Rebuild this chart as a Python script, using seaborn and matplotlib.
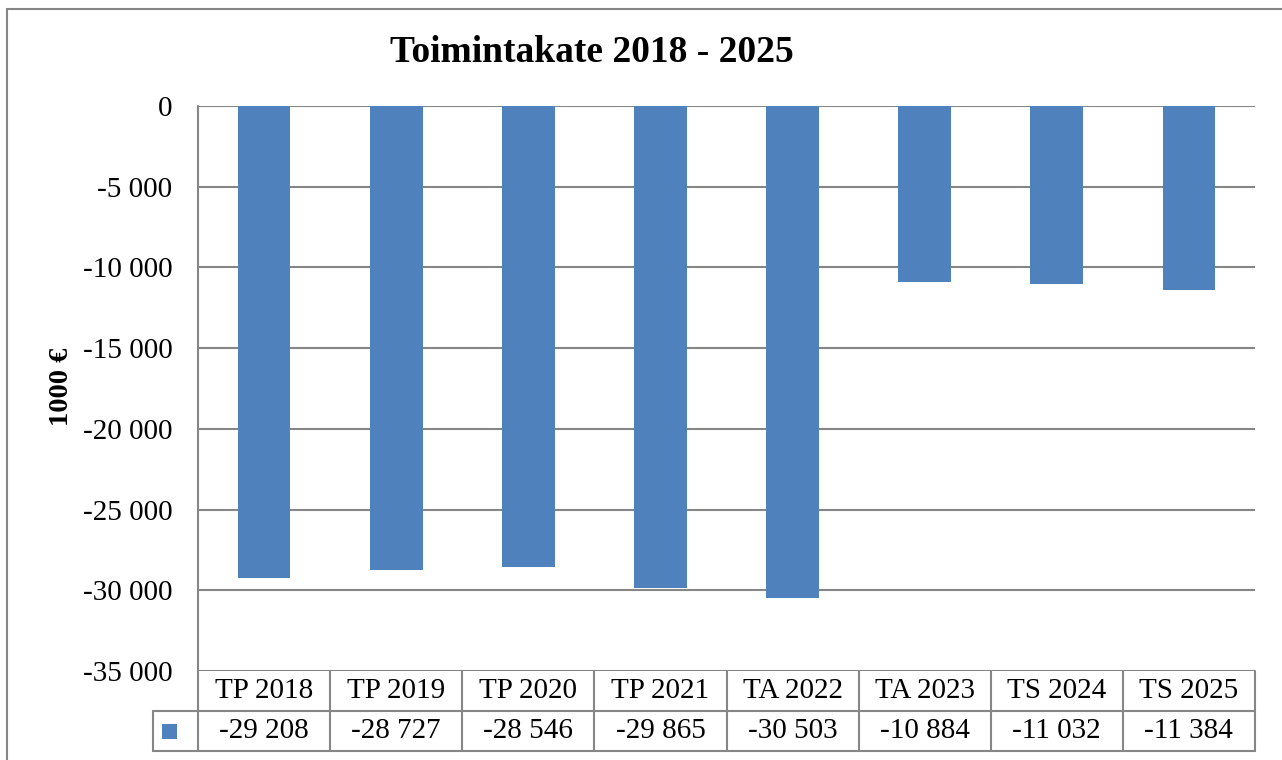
import matplotlib
matplotlib.use("Agg")
import matplotlib.pyplot as plt
from matplotlib.patches import Rectangle
from matplotlib.lines import Line2D
from matplotlib.ticker import FuncFormatter
import seaborn as sns
import pandas as pd

categories = ["TP 2018", "TP 2019", "TP 2020", "TP 2021", "TA 2022", "TA 2023", "TS 2024", "TS 2025"]
values = [-29208, -28727, -28546, -29865, -30503, -10884, -11032, -11384]
title = "Toimintakate 2018 - 2025"
ylabel = "1000 €"
yticks = [0, -5000, -10000, -15000, -20000, -25000, -30000, -35000]

BAR = "#4F81BD"
GRID = "#868686"


def fmt(v):
    return f"{int(v):,}".replace(",", " ")


sns.set_style("white")
plt.rcParams["font.family"] = ["Liberation Serif", "DejaVu Serif"]
plt.rcParams["text.color"] = "black"
plt.rcParams["ytick.color"] = "black"

W, H = 1282, 760
fig = plt.figure(figsize=(W / 100, H / 100), dpi=100)
L, R, T, B = 198, 1255, 106, 671
ax = fig.add_axes([L / W, 1 - B / H, (R - L) / W, (B - T) / H])

df = pd.DataFrame({"cat": categories, "val": values})
sns.barplot(data=df, x="cat", y="val", color=BAR, saturation=1, width=0.4, ax=ax,
            edgecolor="none", zorder=3)

ax.set_ylim(-35000, 0)
ax.set_xlim(-0.5, len(categories) - 0.5)
ax.set_yticks(yticks)
ax.yaxis.set_major_formatter(FuncFormatter(lambda v, p: fmt(v)))
ax.tick_params(axis="y", labelsize=21, length=0, pad=18.5, labelcolor="black")
ax.set_xticks([])
ax.set_xlabel("")
ax.set_ylabel("")
ax.grid(axis="y", color=GRID, linewidth=1.5, zorder=0)
ax.set_axisbelow(True)
for s in ["top", "right", "bottom"]:
    ax.spines[s].set_visible(False)
ax.spines["left"].set_visible(False)

# data table under the axis (drawn manually)
axh = B - T
axw = R - L
keyw, rowh = 45, 40
y0, y1, y2 = 0.0, -rowh / axh, -2 * rowh / axh
xk = -keyw / axw
n = len(categories)
lw = 1.5


def hline(y, xa, xb):
    ax.add_line(Line2D([xa, xb], [y, y], transform=ax.transAxes, color=GRID, lw=lw, clip_on=False))


def vline(x, ya, yb):
    ax.add_line(Line2D([x, x], [ya, yb], transform=ax.transAxes, color=GRID, lw=lw, clip_on=False))


hline(y1, xk, 1)
hline(y2, xk, 1)
vline(0, 1, y2)          # left axis line through table
vline(xk, y1, y2)
for i in range(1, n + 1):
    vline(i / n, y0, y2)

xt = ax.get_xaxis_transform()
for i, (c, v) in enumerate(zip(categories, values)):
    ax.text(i, (y0 + y1) / 2, c, transform=xt, ha="center", va="center", fontsize=21, clip_on=False)
    ax.text(i, (y1 + y2) / 2, fmt(v), transform=xt, ha="center", va="center", fontsize=21,
            clip_on=False)

# legend key
ks = 15
ax.add_patch(Rectangle(((xk * axw + 9) / axw, ((y1 + y2) / 2 * axh - ks / 2) / axh), ks / axw, ks / axh,
                       transform=ax.transAxes, facecolor=BAR, edgecolor="none", clip_on=False))

fig.text(592 / W, 1 - 53 / H, title, ha="center", va="center", fontsize=27, fontweight="bold")
fig.text(61 / W, 1 - 387 / H, ylabel, ha="center", va="center", rotation=90, fontsize=20.5,
         fontweight="bold")

fig.patches.append(Rectangle((7 / W, -0.05), 1.1, 1.05 - 9 / H, transform=fig.transFigure,
                             fill=False, edgecolor=GRID, linewidth=1.5))

fig.savefig("out.png", dpi=100)
